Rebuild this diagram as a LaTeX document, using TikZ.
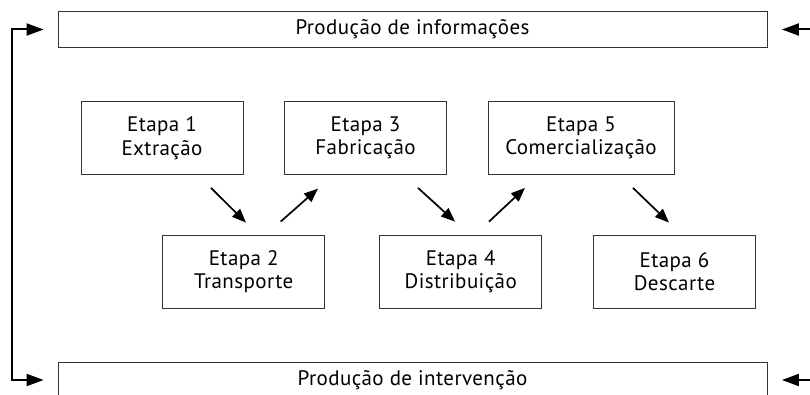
\documentclass[tikz,border=0pt]{standalone}
\usepackage{fontspec}
\setmainfont{PT Sans}[LetterSpace=2]
\usepackage{tikz}
\usetikzlibrary{arrows.meta}
\tikzstyle{etapa}=[rectangle, draw=black!80, line width=0.8pt, inner sep=0pt,
    minimum width=162pt, minimum height=73pt, align=center,
    font=\fontsize{21}{23.5}\selectfont]
\tikzstyle{faixa}=[rectangle, draw=black!80, line width=0.8pt, inner sep=0pt,
    minimum width=709pt, minimum height=35.5pt,
    font=\fontsize{21}{23}\selectfont]
\providecommand{\etapa}{\node[etapa]}

\begin{document}
\begin{tikzpicture}[x=1pt, y=-1pt,
    seta/.style={line width=2pt, -{Triangle[length=17pt,width=12pt]}},
    every edge/.style={draw, line width=1.7pt, -{Triangle[length=14pt,width=11pt]}}
]
\useasboundingbox (0,0) rectangle (810,395);
\clip (0,0) rectangle (810,395);
\node[faixa] (informacoes) at (412.5,29.5) {Produção de informações};
\node[faixa] (intervencao) at (412.5,380) {Produção de intervenção};
\etapa (extracao) at (162,138) {Etapa 1\\Extração};
\etapa (fabricacao) at (365.5,138) {Etapa 3\\Fabricação};
\etapa[minimum width=186pt] (comercializacao) at (581,138) {Etapa 5\\Comercialização};
\etapa (transporte) at (243.7,271.5) {Etapa 2\\Transporte};
\etapa (distribuicao) at (460.7,271.5) {Etapa 4\\Distribuição};
\etapa (descarte) at (674.5,271.5) {Etapa 6\\Descarte};
\coordinate (retorno) at (12,0);
\coordinate (borda) at (810,0);
\path
([shift={(49,13)}]extracao.south) edge ([shift={(2.3,-12)}]transporte.north)
([shift={(37,-13)}]transporte.north) edge ([shift={(-47.5,13.7)}]fabricacao.south)
([shift={(52.5,13)}]fabricacao.south) edge ([shift={(-5.7,-13)}]distribuicao.north)
([shift={(28.3,-13)}]distribuicao.north) edge ([shift={(-56,13)}]comercializacao.south)
([shift={(52,13)}]comercializacao.south) edge ([shift={(-5.5,-12)}]descarte.north)
;
\draw[seta, {Triangle[length=17pt,width=12pt]}-{Triangle[length=17pt,width=12pt]}]
    ([xshift=-14pt]informacoes.west) -- (informacoes.west -| retorno)
    -- (intervencao.west -| retorno) -- ([xshift=-14pt]intervencao.west);
\draw[seta] (informacoes.east -| borda) -- ([xshift=14.5pt]informacoes.east);
\draw[seta] (intervencao.east -| borda) -- ([xshift=14.5pt]intervencao.east);
\end{tikzpicture}
\end{document}
